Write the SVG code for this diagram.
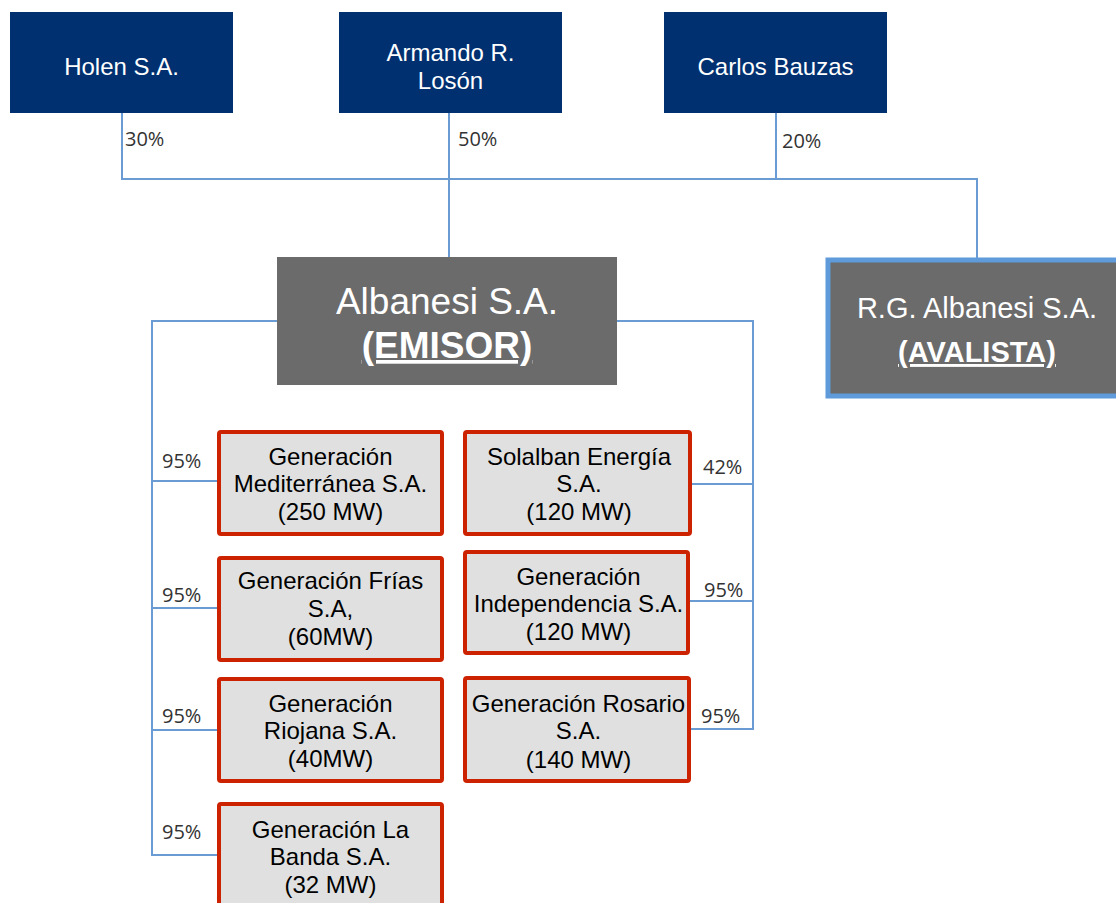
<svg xmlns="http://www.w3.org/2000/svg" width="1116" height="903" viewBox="0 0 1116 903">
<style>
.top{fill:#003070}
.tw{fill:#ffffff;font-family:"Liberation Sans",Arial,sans-serif;font-size:24px;text-anchor:middle}
.gray{fill:#6b6b6b}
.big{fill:#ffffff;font-family:"Liberation Sans",Arial,sans-serif;text-anchor:middle}
.sub{fill:#e0e0e0;stroke:#cc2200;stroke-width:4}
.st{fill:#000000;font-family:"Liberation Sans",Arial,sans-serif;font-size:24px;text-anchor:middle}
.pc{fill:#333333;font-family:"Open Sans","Liberation Sans",sans-serif;font-size:20px}
.ln{fill:none;stroke:#6a9bd2;stroke-width:2}
</style>
<rect width="1116" height="903" fill="#ffffff"/>
<g id="connectors">
<polyline class="ln" points="122,113 122,179 977,179 977,258"/>
<line class="ln" x1="449" y1="113" x2="449" y2="257"/>
<line class="ln" x1="776" y1="113" x2="776" y2="179"/>
<polyline class="ln" points="277,321 152,321 152,855 219,855"/>
<line class="ln" x1="152" y1="481" x2="219" y2="481"/>
<line class="ln" x1="152" y1="608" x2="219" y2="608"/>
<line class="ln" x1="152" y1="730" x2="219" y2="730"/>
<polyline class="ln" points="617,321 753,321 753,729 690,729"/>
<line class="ln" x1="690" y1="484" x2="753" y2="484"/>
<line class="ln" x1="688" y1="601" x2="753" y2="601"/>
<text class="pc" x="125" y="146">30%</text>
<text class="pc" x="458" y="146">50%</text>
<text class="pc" x="782" y="148">20%</text>
<text class="pc" x="162" y="468">95%</text>
<text class="pc" x="162" y="602">95%</text>
<text class="pc" x="162" y="723">95%</text>
<text class="pc" x="162" y="839">95%</text>
<text class="pc" x="703" y="474">42%</text>
<text class="pc" x="704" y="597">95%</text>
<text class="pc" x="701" y="723">95%</text>
</g>
<g id="holen">
<rect class="top" x="10" y="12" width="223" height="101"/>
<text class="tw" x="121.5" y="75">Holen S.A.</text>
</g>
<g id="armando">
<rect class="top" x="339" y="12" width="223" height="101"/>
<text class="tw" x="450.5" y="61">Armando R.</text>
<text class="tw" x="450.5" y="89">Losón</text>
</g>
<g id="carlos">
<rect class="top" x="664" y="12" width="223" height="101"/>
<text class="tw" x="775.5" y="75">Carlos Bauzas</text>
</g>
<g id="albanesi">
<rect class="gray" x="277" y="257" width="340" height="128"/>
<text class="big" x="447" y="314" font-size="37">Albanesi S.A.</text>
<text class="big" x="447" y="358" font-size="37" font-weight="bold" text-decoration="underline">(EMISOR)</text>
</g>
<g id="rgalbanesi">
<rect class="gray" x="828" y="260" width="292" height="136" stroke="#5f9bdb" stroke-width="5"/>
<text class="big" x="977" y="318" font-size="29">R.G. Albanesi S.A.</text>
<text class="big" x="977" y="362" font-size="29" font-weight="bold" text-decoration="underline">(AVALISTA)</text>
</g>
<g id="mediterranea">
<rect class="sub" x="219" y="432" width="223" height="102" rx="2"/>
<text class="st" x="330.5" y="465">Generación</text>
<text class="st" x="330.5" y="492">Mediterránea S.A.</text>
<text class="st" x="330.5" y="520">(250 MW)</text>
</g>
<g id="frias">
<rect class="sub" x="219" y="558" width="223" height="102" rx="2"/>
<text class="st" x="330.5" y="589">Generación Frías</text>
<text class="st" x="330.5" y="617">S.A,</text>
<text class="st" x="330.5" y="645">(60MW)</text>
</g>
<g id="riojana">
<rect class="sub" x="219" y="679" width="223" height="102" rx="2"/>
<text class="st" x="330.5" y="712">Generación</text>
<text class="st" x="330.5" y="739">Riojana S.A.</text>
<text class="st" x="330.5" y="767">(40MW)</text>
</g>
<g id="labanda">
<rect class="sub" x="219" y="804" width="223" height="110" rx="2"/>
<text class="st" x="330.5" y="838">Generación La</text>
<text class="st" x="330.5" y="865">Banda S.A.</text>
<text class="st" x="330.5" y="893">(32 MW)</text>
</g>
<g id="solalban">
<rect class="sub" x="465" y="432" width="225" height="102" rx="2"/>
<text class="st" x="579" y="465">Solalban Energía</text>
<text class="st" x="579" y="492">S.A.</text>
<text class="st" x="579" y="520">(120 MW)</text>
</g>
<g id="independencia">
<rect class="sub" x="465" y="552" width="223" height="101" rx="2"/>
<text class="st" x="578.5" y="585">Generación</text>
<text class="st" x="578.5" y="612" font-size="25">Independencia S.A.</text>
<text class="st" x="578.5" y="640">(120 MW)</text>
</g>
<g id="rosario">
<rect class="sub" x="465" y="678" width="224" height="103" rx="2"/>
<text class="st" x="578.5" y="712" font-size="25">Generación Rosario</text>
<text class="st" x="578.5" y="739">S.A.</text>
<text class="st" x="578.5" y="768">(140 MW)</text>
</g>
</svg>
